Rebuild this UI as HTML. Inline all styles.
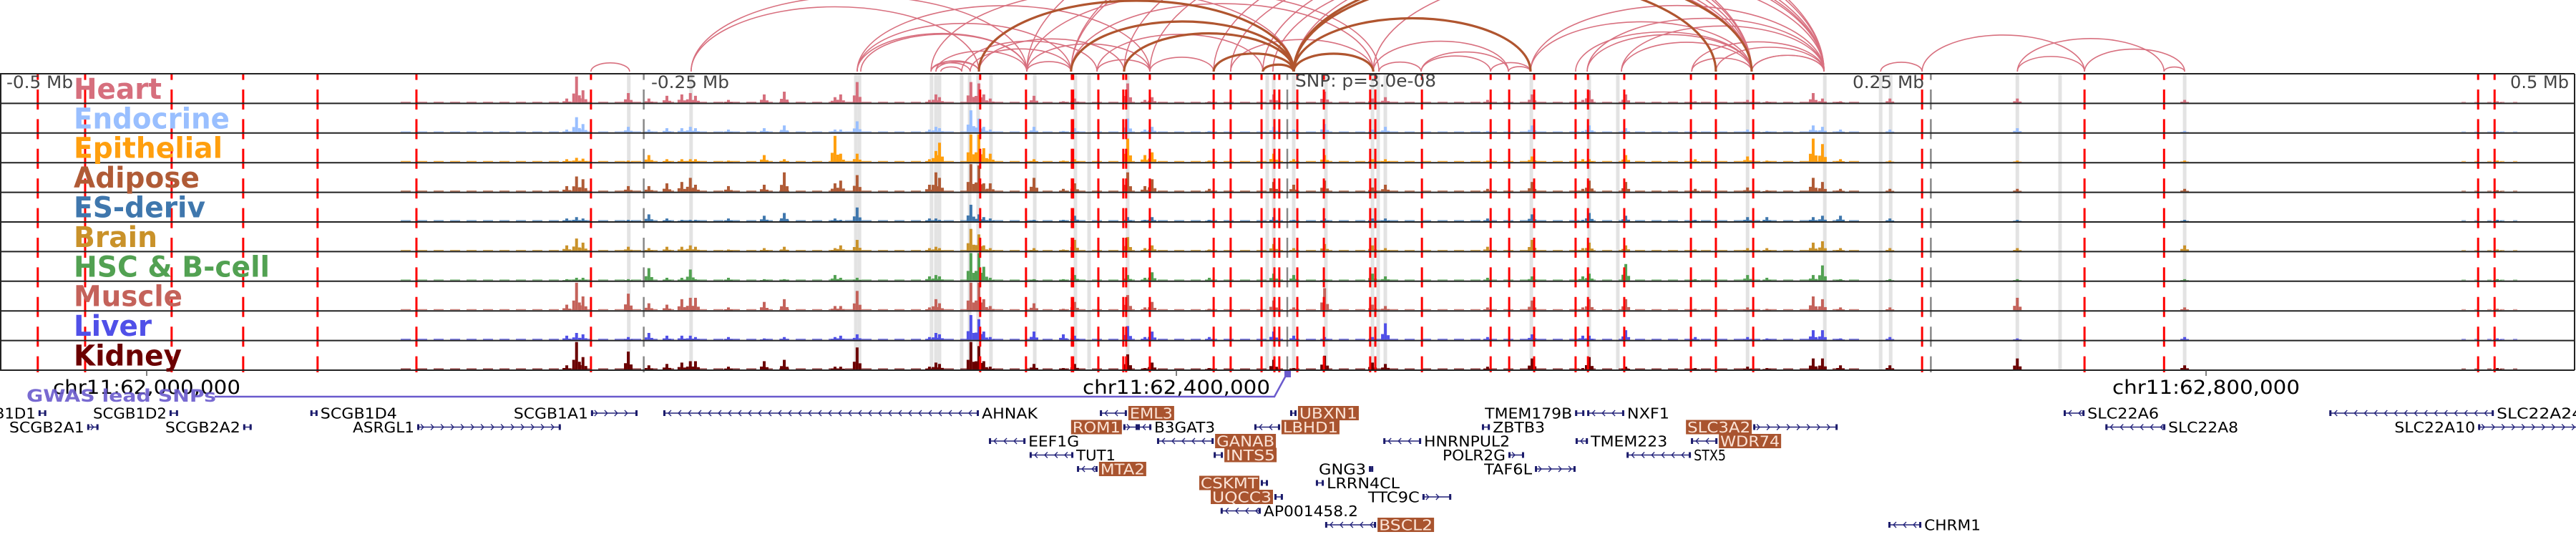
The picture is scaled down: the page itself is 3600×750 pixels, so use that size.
<!DOCTYPE html>
<html><head><meta charset="utf-8">
<style>
html,body{margin:0;padding:0;background:#fff;}
svg{display:block;}
</style></head>
<body>
<svg id="fig" width="3600" height="750" viewBox="0 0 3600 750" xmlns="http://www.w3.org/2000/svg">
  <g id="arcs"></g>
  <g id="bands"></g>
  <g id="tracks"></g>
  <g id="vlines"></g>
  <g id="frame"></g>
  <g id="labels"></g>
  <g id="axis"></g>
  <g id="genes"></g>
</svg>
<script>
// ---------- data (positions in kb relative to lead SNP) ----------
const tissues = ["Heart","Endocrine","Epithelial","Adipose","ES-deriv","Brain","HSC & B-cell","Muscle","Liver","Kidney"];
const tissueColors = ["#d66f7d","#99bfff","#ff9f0e","#b05b36","#3f77ad","#c9922a","#52a152","#c4625a","#5050e8","#6b0000"];
const peakPos = [-279.9,-276.1,-273.6,-256.0,-248.0,-241.0,-235.2,-231.9,-229.9,-217.1,-203.2,-195.4,-175.7,-173.5,-167.1,-139.0,-136.5,-135.1,-122.9,-119.8,-117.9,-115.4,-98.4,-87.0,-82.6,-62.0,-55.3,-52.5,-30.3,-5.3,2.5,14.5,33.1,38.1,77.8,95.1,114.8,117.3,131.5,158.5,178.8,186.3,204.3,207.9,214.9,234.1,283.6,348.6,470.1];
const heartVals     = [.15,.95,.45,.35,.15,.25,.3,.35,.25,.1,.3,.4,.2,.3,.75,.1,.3,.2,.75,.7,.3,.15,.25,.05,.15,.7,.1,.2,.05,.3,.05,.4,.15,.2,.1,.3,.1,.45,.3,.05,.1,.05,.35,.15,.05,.15,.15,.1,.05];
const endocrineVals = [.1,.55,.3,.2,.1,.15,.15,.2,.15,.1,.15,.25,.1,.1,.4,.1,.2,.15,.8,.5,.2,.1,.2,.05,.15,.5,.1,.2,.05,.2,.1,.3,.1,.2,.05,.25,.05,.25,.15,.05,.1,.05,.25,.2,.1,.1,.15,.05,.05];
const epithelialVals= [.1,.15,.12,.05,.25,.1,.1,.1,.1,.05,.25,.1,.95,.3,.3,.1,.4,.7,1,1,.5,.3,.1,.05,.1,.85,.25,.35,.05,.3,.1,.25,.1,.1,.05,.2,.1,.1,.25,.1,.2,.05,.85,.65,.1,.05,.05,.05,.05];
const adiposeVals   = [.2,.55,.45,.2,.2,.3,.35,.5,.25,.2,.25,.7,.3,.4,.6,.25,.7,.5,1,.95,.3,.3,.5,.1,.3,.7,.2,.45,.1,.35,.25,.4,.15,.25,.1,.35,.1,.4,.35,.1,.15,.05,.5,.35,.1,.1,.1,.1,.05];
const esVals        = [.1,.15,.1,.05,.25,.1,.05,.05,.05,.1,.2,.3,.1,.05,.5,.1,.1,.05,.6,.25,.15,.1,.05,.05,.2,.15,.05,.15,.05,.15,.05,.1,.1,.1,.1,.25,.05,.3,.2,.05,.15,.15,.15,.2,.2,.1,.05,.05,.05];
const brainVals     = [.2,.45,.3,.15,.1,.15,.15,.2,.15,.05,.1,.15,.1,.2,.4,.1,.15,.1,.8,.6,.2,.1,.1,.05,.4,.5,.1,.2,.05,.25,.1,.25,.2,.1,.15,.4,.1,.3,.2,.05,.1,.1,.3,.35,.1,.1,.1,.2,.05];
const hscVals       = [.05,.1,.1,.05,.45,.1,.1,.4,.05,.1,.05,.05,.2,.1,.1,.15,.2,.15,1,1,.5,.1,.05,.05,.2,.2,.1,.3,.1,.25,.2,.05,.25,.15,.1,.15,.15,.25,.6,.05,.2,.1,.2,.55,.05,.05,.05,.05,.05];
const muscleVals    = [.2,1,.5,.6,.25,.2,.4,.45,.45,.1,.3,.4,.15,.15,.7,.1,.4,.25,1,1,.4,.15,.25,.05,.3,.55,.1,.3,.05,.35,.1,.8,.2,.15,.1,.35,.1,.4,.4,.05,.1,.05,.5,.4,.1,.1,.45,.1,.05];
const liverVals     = [.15,.25,.2,.1,.25,.15,.15,.15,.1,.1,.05,.1,.1,.15,.2,.1,.25,.2,.9,.75,.3,.1,.3,.2,.15,.5,.1,.3,.1,.3,.15,.1,.1,.6,.1,.2,.15,.15,.35,.1,.1,.05,.35,.35,.05,.1,.05,.1,.05];
const kidneyVals    = [.15,1,.45,.65,.15,.2,.25,.3,.3,.1,.3,.35,.1,.1,.8,.1,.25,.2,1,.85,.3,.1,.2,.05,.2,.55,.05,.25,.05,.35,.05,.5,.25,.2,.1,.4,.05,.45,.1,.05,.1,.05,.4,.4,.15,.15,.4,.15,.05];
const trackVals = [heartVals,endocrineVals,epithelialVals,adiposeVals,esVals,brainVals,hscVals,muscleVals,liverVals,kidneyVals];

const redLinePos = [-485.4,-467.0,-433.4,-405.6,-376.7,-338.3,-270.5,-119.3,-101.5,-83.7,-83.2,-73.4,-63.7,-62.6,-53.4,-28.6,-22.0,-10.0,-5.0,-3.1,3.9,14.2,32.2,34.2,52.3,79.0,86.2,95.9,112.0,116.8,130.9,156.8,166.5,181.0,246.6,309.7,340.6,462.6,469.0];
const bandPos = [-255.8,-231.6,-167.6,-166.2,-138.2,-136.5,-135.1,-126.5,-123.4,-120.1,-115.1,-98.1,-82.3,-77.0,-62.0,-7.8,-5.3,2.5,15.0,33.1,35.3,38.1,94.8,117.3,128.4,178.8,208.8,230.5,234.4,283.6,300.2,348.6];
const axisTickKb = [-250, 0, 250];

const loopStarts = [-270.5,-231.6,-167.1,-165.7,-138.4,-136.5,-134.6,-138.4,-126.5,-123.2,-119.8,-101.2,-101.2,-231.6,-167.1,-101.2,-84.0,-167.1,-73.9,-73.9,-53.4,-138.4,2.5,-5.6,-9.5,2.5,-22.0,-28.6,33.4,35.6,52.0,79.0,94.5,94.5,112.0,116.5,129.8,129.8,157.1,166.5,157.1,116.5,-53.4,-63.4,-84.0,-84.0,-101.2,33.4,180.4,180.4,230.5,246.6,283.6,283.6,309.7,340.6,-136.5,-22.0,52.0,85.9];
const loopEnds   = [-255.5,-119.8,-101.2,-101.2,-123.2,-119.8,-126.5,-119.8,-73.9,-84.0,-63.4,-84.0,-53.4,-101.2,-84.0,180.4,180.4,-53.4,-9.5,-53.4,-28.6,2.5,180.4,180.4,208.5,208.5,180.4,208.5,85.9,52.0,79.0,94.5,180.4,208.5,180.4,208.5,180.4,208.5,180.4,208.5,208.5,180.4,180.4,208.5,208.5,33.4,35.6,208.5,208.5,208.5,246.6,309.7,340.6,309.7,348.6,348.6,-101.2,33.4,85.9,94.5];
const brownStarts = [-119.8,-84.0,-63.4,-28.6,-9.5,2.5,2.5,2.5,2.5];
const brownEnds   = [2.5,2.5,2.5,2.5,2.5,180.4,166.5,33.4,94.5];

const geneNames  = ["SCGB1D1","SCGB2A1","SCGB1D2","SCGB2A2","SCGB1D4","ASRGL1","SCGB1A1","AHNAK","EML3","ROM1","B3GAT3","EEF1G","TUT1","MTA2","GANAB","INTS5","CSKMT","UQCC3","AP001458.2","BSCL2","UBXN1","LBHD1","GNG3","LRRN4CL","TTC9C","HNRNPUL2","POLR2G","TAF6L","TMEM179B","NXF1","ZBTB3","TMEM223","STX5","SLC3A2","WDR74","SLC22A6","SLC22A8","SLC22A24","SLC22A10","CHRM1"];
const geneStart  = [-485.1,-466.2,-434.2,-405.6,-379.5,-338.0,-270.5,-242.4,-72.8,-63.7,-58.1,-115.9,-100.1,-81.7,-50.6,-28.6,-10.3,-5.0,-25.9,14.7,1.1,-12.8,31.7,11.1,52.5,37.3,85.9,96.2,111.8,116.5,75.6,112.0,131.8,181.0,156.8,301.6,317.8,404.8,462.6,233.5];
const geneEnd    = [-482.1,-461.8,-430.9,-402.3,-376.7,-282.2,-252.4,-119.8,-62.3,-58.1,-52.8,-101.7,-83.1,-73.7,-28.6,-25.0,-7.5,-1.7,-10.3,34.5,3.6,-2.8,33.4,14.2,63.7,52.0,92.0,112.0,115.4,130.9,78.7,116.8,156.8,213.8,167.1,309.7,341.1,468.7,506.2,246.3];
const geneRow    = [1,2,1,2,1,2,1,1,1,2,2,3,4,5,3,4,6,7,8,9,1,2,5,6,7,3,4,5,1,1,2,3,4,2,3,1,2,1,2,9];
const geneStrand = ["+","+","+","+","-","+","+","-","-","+","-","-","-","-","-","-","+","+","-","-","-","-","+","-","+","-","+","+","-","-","-","-","-","+","-","-","-","-","+","-"];
const geneLabelSide = ["L","L","L","L","R","L","L","R","R","L","R","R","R","R","R","R","L","L","R","R","R","R","L","R","L","R","L","L","L","R","R","R","R","L","R","R","R","R","L","R"];
const geneHighlight = [0,0,0,0,0,0,0,0,1,1,0,0,0,1,1,1,1,1,0,1,1,1,0,0,0,0,0,0,0,0,0,0,0,1,1,0,0,0,0,0];
const geneLabelWidth = [103,105,103,105,107,86,104,78,60,67,85,71,55,62,81,69,80,83,132,75,81,77,66,102,72,120,88,67,122,59,73,107,45,88,83,100,98,120,113,79];

// ---------- layout ----------
const NS = "http://www.w3.org/2000/svg";
const SNP_X = 1799, PX_PER_KB = 3.5975;
const xOf = kb => SNP_X + kb * PX_PER_KB;
const PANEL_TOP = 103, TRACK_H = 41.4, N_TR = 10;
const PANEL_BOT = PANEL_TOP + TRACK_H * N_TR;
const ARC_BASE = 100, ARC_K = 0.45;
const ROW_Y = r => 557.5 + r * 19.5;

function mk(tag, attrs, parent) {
  const e = document.createElementNS(NS, tag);
  for (const k in attrs) e.setAttribute(k, attrs[k]);
  parent.appendChild(e);
  return e;
}
const G = id => document.getElementById(id);

// ---------- arcs ----------
function drawArc(a, b, color, w, name) {
  const x1 = xOf(Math.min(a, b)), x2 = xOf(Math.max(a, b));
  const rx = (x2 - x1) / 2, ry = rx * ARC_K;
  const p = mk("path", {d: `M${x1},${ARC_BASE} A${rx},${ry} 0 0 1 ${x2},${ARC_BASE}`, fill: "none", stroke: color, "stroke-width": w}, G("arcs"));
  
  
}
for (let i = 0; i < loopStarts.length; i++) drawArc(loopStarts[i], loopEnds[i], "#d8707f", 1.6, "loop-arc");
for (let i = 0; i < brownStarts.length; i++) drawArc(brownStarts[i], brownEnds[i], "#b0552f", 3.2, "adipose-loop-arc");

// ---------- highlight bands ----------
bandPos.forEach(kb => {
  const r = mk("rect", {x: xOf(kb) - 2.5, y: PANEL_TOP, width: 5, height: PANEL_BOT - PANEL_TOP, fill: "#e3e3e3"}, G("bands"));
  
  
});

// ---------- tracks ----------
for (let t = 0; t < N_TR; t++) {
  const top = PANEL_TOP + t * TRACK_H, bot = top + TRACK_H - 1;
  const col = tissueColors[t];
  const g = mk("g", {}, G("tracks"));
  
  
  mk("line", {x1: 560, x2: 2600, y1: bot - 0.8, y2: bot - 0.8, stroke: col, "stroke-width": 1.3, "stroke-dasharray": "14 9", opacity: 0.8}, g);
  mk("line", {x1: 3440, x2: 3520, y1: bot - 0.8, y2: bot - 0.8, stroke: col, "stroke-width": 1.3, "stroke-dasharray": "6 12", opacity: 0.6}, g);
  const vals = trackVals[t];
  for (let i = 0; i < peakPos.length; i++) {
    const h = vals[i] * (TRACK_H - 3), x = xOf(peakPos[i]);
    const bar = mk("rect", {x: x - 2, y: bot - h, width: 4, height: h, fill: col}, g);
    
    
    const sh = h * 0.35;
    mk("rect", {x: x - 6, y: bot - sh, width: 4, height: sh, fill: col}, g);
    mk("rect", {x: x + 2, y: bot - sh * 0.8, width: 4, height: sh * 0.8, fill: col}, g);
  }
}

// ---------- vertical dashed lines ----------
redLinePos.forEach(kb => {
  const l = mk("line", {x1: xOf(kb), x2: xOf(kb), y1: PANEL_TOP, y2: PANEL_BOT + 3, stroke: "#ff0000", "stroke-width": 3, "stroke-dasharray": "28 13.4", "stroke-dashoffset": 19.4}, G("vlines"));
  
  
});
axisTickKb.forEach(kb => {
  const l = mk("line", {x1: xOf(kb), x2: xOf(kb), y1: PANEL_TOP, y2: PANEL_BOT + 3, stroke: "#888", "stroke-width": 2.5, "stroke-dasharray": "28 13.4", "stroke-dashoffset": 19.4}, G("vlines"));
  
  
});

// ---------- frame ----------
for (let t = 0; t <= N_TR; t++) {
  const y = PANEL_TOP + t * TRACK_H;
  const l = mk("line", {x1: 0, x2: 3598, y1: y, y2: y, stroke: "#222", "stroke-width": 2}, G("frame"));
  
  
}
mk("line", {x1: 1, x2: 1, y1: PANEL_TOP, y2: PANEL_BOT, stroke: "#222", "stroke-width": 2}, G("frame"));
mk("line", {x1: 3598, x2: 3598, y1: PANEL_TOP, y2: PANEL_BOT, stroke: "#222", "stroke-width": 2}, G("frame"));

// ---------- track labels ----------
const labelWidths = [123,218,208,176,184,117,274,152,109,151];
for (let t = 0; t < N_TR; t++) {
  const y = PANEL_TOP + (t + 1) * TRACK_H - 6.5;
  const tx = mk("text", {x: 103, y: y, fill: tissueColors[t], "font-family": "DejaVu Sans, sans-serif", "font-weight": "bold", "font-size": 40, textLength: labelWidths[t], lengthAdjust: "spacingAndGlyphs"}, G("labels"));
  tx.textContent = tissues[t];
  
  
}

// ---------- axis text ----------
function txt(s, x, y, size, fill, w, name, anchor, weight) {
  const a = {x: x, y: y, fill: fill, "font-family": "DejaVu Sans, sans-serif", "font-size": size};
  if (w) { a.textLength = w; a.lengthAdjust = "spacingAndGlyphs"; }
  if (anchor) a["text-anchor"] = anchor;
  if (weight) a["font-weight"] = weight;
  const e = mk("text", a, G("axis"));
  e.textContent = s;
  
  
  return e;
}
txt("-0.5 Mb", 9, 123, 24, "#444", 93, "distance-label");
txt("-0.25 Mb", 910, 123, 24, "#444", 109, "distance-label");
txt("SNP: p=3.0e-08", 1810, 121, 24, "#444", 197, "snp-pvalue-label");
txt("0.25 Mb", 2589, 123, 24, "#444", 100, "distance-label");
txt("0.5 Mb", 3508, 123, 24, "#444", 82, "distance-label");

const chrTickX = [205, 1644, 3083];
const chrTickLbl = ["chr11:62,000,000", "chr11:62,400,000", "chr11:62,800,000"];
chrTickX.forEach((x, i) => {
  const l = mk("line", {x1: x, x2: x, y1: PANEL_BOT, y2: PANEL_BOT + 8, stroke: "#555", "stroke-width": 1.5}, G("axis"));
  
  
  txt(chrTickLbl[i], x - 131, 550, 27, "#000", 262, "coordinate-label");
});

// GWAS lead SNPs track
const gw = mk("polyline", {points: `300,554 1781,554 1799,521`, fill: "none", stroke: "#6a5acd", "stroke-width": 2.5}, G("axis"));


const sm = mk("rect", {x: 1795, y: 518, width: 9, height: 9, fill: "#6a5acd"}, G("axis"));


const gl = txt("GWAS lead SNPs", 37, 561, 24, "#6a5acd", 265, "gwas-track-title", null, "bold");
gl.setAttribute("opacity", "0.9");

// ---------- genes ----------
for (let i = 0; i < geneNames.length; i++) {
  const g = mk("g", {}, G("genes"));
  
  
  const x1 = xOf(geneStart[i]), x2 = xOf(geneEnd[i]), yc = ROW_Y(geneRow[i]);
  mk("line", {x1: x1, x2: x2, y1: yc, y2: yc, stroke: "#22227a", "stroke-width": 1.5}, g);
  mk("rect", {x: x1, y: yc - 4, width: 3, height: 8, fill: "#1b1b6b"}, g);
  mk("rect", {x: x2 - 3, y: yc - 4, width: 3, height: 8, fill: "#1b1b6b"}, g);
  const step = 14;
  for (let ax = x1 + 8; ax < x2 - 5; ax += step) {
    const d = geneStrand[i] === "+" ? `M${ax - 3},${yc - 4} L${ax + 1},${yc} L${ax - 3},${yc + 4}` : `M${ax + 3},${yc - 4} L${ax - 1},${yc} L${ax + 3},${yc + 4}`;
    mk("path", {d: d, fill: "none", stroke: "#22227a", "stroke-width": 1.3}, g);
  }
  const w = geneLabelWidth[i];
  const lx = geneLabelSide[i] === "L" ? x1 - 4 - w : x2 + 4;
  if (geneHighlight[i]) {
    mk("rect", {x: lx - 2, y: yc - 10, width: w + 4, height: 20, fill: "#a9542f"}, g);
  }
  const t = mk("text", {x: lx, y: yc + 7.5, fill: geneHighlight[i] ? "#fbe3d6" : "#000", "font-family": "DejaVu Sans, sans-serif", "font-size": 20, textLength: w, lengthAdjust: "spacingAndGlyphs"}, g);
  t.textContent = geneNames[i];
  
  
}
</script>
</body></html>
